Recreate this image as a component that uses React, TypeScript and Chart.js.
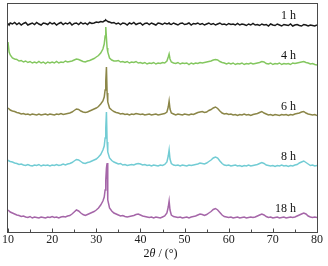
import React, { useEffect, useRef } from "react";
import { Chart, registerables } from "chart.js";

Chart.register(...registerables);

// 2θ positions (degrees)
const twoTheta = [
  10, 10.25, 10.5,
  11, 11.5, 12, 12.5, 13, 13.5, 14, 14.5, 15, 15.5, 16, 16.5, 17, 17.5, 18, 18.5, 19, 19.5, 20,
  20.5, 21, 21.5, 22, 22.5, 23, 23.5, 24, 24.5, 25, 25.5, 26, 26.5, 27, 27.5, 28, 28.5, 29, 29.5, 30, 30.5, 31, 31.5,
  31.8, 32, 32.15, 32.3, 32.45, 32.6,
  33, 33.5, 34, 34.5, 35, 35.5, 36, 36.5, 37, 37.5, 38, 38.5, 39, 39.5, 40, 40.5, 41, 41.5, 42, 42.5, 43, 43.5, 44, 44.5, 45, 45.5, 46,
  46.3, 46.5, 46.7,
  47, 47.5, 48, 48.5, 49, 49.5, 50, 50.5, 51, 51.5, 52, 52.5, 53, 53.5, 54, 54.5, 55, 55.5, 56, 56.5, 57, 57.5, 58, 58.5, 59, 59.5, 60,
  60.5, 61, 61.5, 62, 62.5, 63, 63.5, 64, 64.5, 65, 65.5, 66, 66.5, 67, 67.5, 68, 68.5, 69, 69.5, 70,
  70.5, 71, 71.5, 72, 72.5, 73, 73.5, 74, 74.5, 75, 75.5, 76, 76.5, 77, 77.5, 78, 78.5, 79, 79.5, 80,
];

// Intensities (a.u.) relative to each pattern's own baseline
const h1 = [
  0.5, -1, 1,
  0, 1.5, -0.5, 1, -1, 0.5, 1.5, -1, 0, 1, -0.5, 1.5, 0, -1, 1, 0.5, -0.5, 1.5, 0,
  1, -1, 0.5, 1.5, -0.5, 1, 0, 1.5, -1, 0.5, 1, -0.5, 1.5, 0, 1, -0.5, 1.5, 0.5, 1, 2, 1.5, 2.5, 2,
  3, 3.5, 4, 3.5, 3, 2.5,
  2, 1, 1.5, 0, 1, -0.5, 1, 0.5, -1, 1, 0, 1.5, -0.5, 0.5, 1, -1, 0.5, 1, -0.5, 1, 0, -1, 1, 0.5, -0.5, 1, 0,
  0.5, 1, 0,
  -0.5, 1, 0, -1, 0.5, 1, -0.5, 0, 1, -1, 0.5, 0, 1, -0.5, 0.5, -1, 0, 1, -0.5, 0.5, -1, 0, 1, -0.5, 0, -1, 0.5,
  -0.5, 0, -1, 0.5, -1, 0, -0.5, -1.5, 0, -1, 0.5, -1, -0.5, -1.5, 0, -1, -0.5, -2, 0, -1,
  -1.5, 0, -1, -2, -0.5, -1, -1.5, 0, -2, -1, -0.5, -1.5, -2, -0.5, -1, -2, -1, -1.5, -2, -1,
];

const h4 = [
  22, 12, 9,
  6, 5, 4.5, 3, 3.5, 2, 3, 1.5, 2.5, 1, 2, 1, 2.5, 1, 2, 0.5, 2, 1, 2,
  1, 2.5, 1, 2, 1.5, 3, 2, 2.5, 3, 4, 5, 4.5, 3.5, 2.5, 2, 3, 3.5, 4.5, 5.5, 7, 8.5, 11, 15,
  20, 28, 37, 26, 16, 12,
  6, 4, 3, 3, 3.5, 2, 2.5, 1.5, 2.5, 1, 2, 1.5, 2.5, 1, 1.5, 0.5, 1.5, 0, 1, 0.5, 1.5, 0, 1, 0.5, 1.5, 1, 3,
  7, 10, 5,
  2, 1, 0.5, 1.5, 0, 1, 0.5, 1, -0.5, 1, 0, 1, 0.5, 1.5, 1, 1.5, 2, 2.5, 3, 4, 4.5, 4, 2.5, 1.5, 1, 0, 1,
  0, 1, -0.5, 0.5, 0, 1, -0.5, 0.5, 0, 1, 0, 0.5, 1, 1.5, 2.5, 2, 0.5, 0, 1, -0.5,
  0.5, 0, 1, -0.5, 0.5, 0, 0.5, -0.5, 1, 0.5, 1, 1.5, 2, 2.5, 1.5, 1, 0, 0.5, -0.5, -1,
];

const h6 = [
  7, 6, 5,
  4, 3.5, 2.5, 2, 1, 1.5, 0.5, 1, 0, 1, 0.5, 0, 1, 0, 0.5, 1, 0, 1, 0.5,
  0, 1, 0.5, 1.5, 0.5, 1, 1.5, 2, 3, 4.5, 6, 5.5, 4, 3, 2.5, 3, 4, 5, 6, 7, 8.5, 11, 14,
  18, 25, 34, 48, 22, 13,
  7, 5, 3.5, 2.5, 2, 1, 1.5, 0.5, 1, 0, 1, 0.5, 1.5, 1, 0.5, 1, 0, 0.5, 1, 0, 0.5, 1, 0, 0.5, 1, 1.5, 3,
  8, 14, 6,
  2, 1, 0, 1, 0.5, 0, 1, 0.5, 0, 1, 0.5, 1.5, 2.5, 3, 3.5, 2.5, 3, 4.5, 5.5, 7, 8, 6.5, 4, 2, 1, 1.5, 0.5,
  1, 0, 0.5, -0.5, 0.5, 0, 1, 0, 0.5, -0.5, 0.5, 1, 1.5, 2.5, 3.5, 2, 1, 0, 0.5, -0.5,
  0.5, 0, -0.5, 0.5, 0, 0.5, -0.5, 0.5, 0, 1, 1.5, 2, 3, 3.5, 2, 1, 0.5, 0, 0.5, -0.5,
];

const h8 = [
  6, 5, 4.5,
  4, 3, 2.5, 1.5, 2, 1, 0.5, 1.5, 0.5, 0, 1, 0.5, 1.5, 0, 1, 0.5, 1, 0, 1,
  0.5, 1.5, 0.5, 1, 2, 1, 2, 2.5, 3.5, 5, 6.5, 6, 4.5, 3, 2.5, 3.5, 4, 5, 6, 7, 9, 11.5, 16,
  20, 28, 38, 54, 24, 14,
  8, 5.5, 4, 3, 2, 2.5, 1, 1.5, 0.5, 1, 1.5, 1, 2, 2.5, 2, 1, 1.5, 0.5, 1, 0, 1, 0.5, 0, 1, 0.5, 1.5, 4,
  10, 16, 7,
  2.5, 1, 0.5, 1, 0, 1, 0.5, 0, 1, 0.5, 1, 1.5, 2, 3, 2.5, 2, 3, 4.5, 6, 8, 9, 8, 5, 2.5, 1, 0.5, 1,
  0, 0.5, 1, 0, 0.5, -0.5, 0.5, 0, 1, 0, 0.5, 1, 1.5, 2.5, 3.5, 2.5, 1, 0.5, 0, 0.5,
  -0.5, 0.5, 0, 1, 0, 0.5, -0.5, 0.5, 0, 1, 1.5, 3, 4, 5, 3.5, 2, 0.5, 1, 0, 0.5,
];

const h18 = [
  8, 7, 6,
  5, 4, 3, 2.5, 1.5, 2, 1, 0.5, 1.5, 0, 1, 0.5, 0, 1, 0.5, 0, 1, 0.5, 1.5,
  0.5, 1, 0, 1, 1.5, 1, 2, 2.5, 4, 6, 8, 7, 5, 3.5, 2.5, 3.5, 4.5, 5.5, 6.5, 8, 10, 13, 17,
  21, 28, 38, 50, 55, 18,
  10, 7, 5, 4, 3, 2, 2.5, 1.5, 1, 1.5, 2, 2.5, 3.5, 4, 3, 2, 1.5, 1, 0.5, 1, 0, 1, 0.5, 0, 1, 2, 5,
  11, 17, 8,
  3, 1.5, 1, 0.5, 1, 0, 0.5, 1, 0, 1, 1.5, 2, 3, 4, 3.5, 2.5, 3.5, 5, 6.5, 8.5, 9.5, 8, 5.5, 3, 1.5, 1, 0.5,
  1, 0, 0.5, 1, 0, 0.5, 1, 0, 0.5, 1, 0.5, 1, 2, 3, 4, 3, 1.5, 0.5, 1, 0,
  0.5, 1, 0, 0.5, 1, 0, 0.5, 1, 0.5, 1, 2, 3, 4, 5, 4, 2, 1, 0.5, 1, 0.5,
];

const seriesLabels = ["1 h", "4 h", "6 h", "8 h", "18 h"];
const seriesValues = [h1, h4, h6, h8, h18];
const seriesOffsets = [208, 168, 117, 66, 14];
const seriesColors = ["#1a1a1a", "#84c760", "#8b8648", "#72ccd4", "#a566a8"];
const xTickValues = [10, 20, 30, 40, 50, 60, 70, 80];

const SERIF = "'Liberation Serif', 'Times New Roman', serif";

const decorPlugin = {
  id: "decor",
  afterDraw(chart: any) {
    const { ctx, chartArea: a, scales } = chart;
    const xs = scales.x;
    const ys = scales.y;
    ctx.save();
    // frame
    const L = Math.round(a.left) - 0.5;
    const R = Math.round(a.right) + 0.5;
    const T = Math.round(a.top) - 0.5;
    const B = Math.round(a.bottom) + 0.5;
    ctx.strokeStyle = "#4a4a4a";
    ctx.lineWidth = 1;
    ctx.strokeRect(L, T, R - L, B - T);
    // inward ticks on bottom axis
    ctx.beginPath();
    for (let v = xs.min; v <= xs.max; v += 5) {
      const px = Math.round(xs.getPixelForValue(v)) + 0.5;
      const len = v % 10 === 0 ? 4 : 3;
      ctx.moveTo(px, B);
      ctx.lineTo(px, B - len);
    }
    ctx.stroke();
    // series labels
    ctx.fillStyle = "#111";
    ctx.font = "12px " + SERIF;
    ctx.textAlign = "right";
    ctx.textBaseline = "alphabetic";
    chart.data.datasets.forEach((ds: any) => {
      const last = ds.data[ds.data.length - 1];
      const py = ys.getPixelForValue(last.y);
      ctx.fillText(ds.label, a.right - 21, py - 6);
    });
    // axis title: 2θ / (°)
    const parts = [
      { t: "2", f: "12px " + SERIF },
      { t: "θ", f: "italic 12px " + SERIF },
      { t: " / (°)", f: "12px " + SERIF },
    ];
    let total = 0;
    parts.forEach((p) => {
      ctx.font = p.f;
      total += ctx.measureText(p.t).width;
    });
    let cx = (a.left + a.right) / 2 - 2 - total / 2;
    ctx.textAlign = "left";
    parts.forEach((p) => {
      ctx.font = p.f;
      ctx.fillText(p.t, cx, 257);
      cx += ctx.measureText(p.t).width;
    });
    ctx.restore();
  },
};

export default function App() {
  const ref = useRef<HTMLCanvasElement | null>(null);

  useEffect(() => {
    document.body.style.margin = "0";
    const canvas = ref.current;
    if (!canvas) return;
    const datasets = seriesValues.map((vals, i) => ({
      label: seriesLabels[i],
      data: twoTheta.map((x, j) => ({ x, y: vals[j] + seriesOffsets[i] })),
      borderColor: seriesColors[i],
      backgroundColor: seriesColors[i],
      borderWidth: 1.5,
      pointRadius: 0,
      tension: 0,
      fill: false,
    }));
    const chart = new Chart(canvas, {
      type: "line",
      data: { datasets },
      options: {
        animation: false,
        responsive: false,
        devicePixelRatio: 1,
        layout: { padding: { left: 8, right: 11, top: 4, bottom: 0 } },
        plugins: {
          legend: { display: false },
          tooltip: { enabled: false },
        },
        scales: {
          x: {
            type: "linear",
            min: 10,
            max: 80,
            afterFit: (s: any) => {
              s.height = 34;
            },
            afterBuildTicks: (s: any) => {
              s.ticks = xTickValues.map((v) => ({ value: v }));
            },
            grid: { display: false, drawTicks: false },
            border: { display: false },
            ticks: {
              autoSkip: false,
              maxRotation: 0,
              padding: 1,
              color: "#222",
              font: { family: SERIF, size: 12 },
            },
          },
          y: {
            display: false,
            min: 0,
            max: 228,
          },
        },
      },
      plugins: [decorPlugin],
    });
    return () => chart.destroy();
  }, []);

  return (
    <div style={{ width: 328, height: 266, background: "#fff" }}>
      <canvas ref={ref} width={328} height={266} style={{ display: "block" }} />
    </div>
  );
}
